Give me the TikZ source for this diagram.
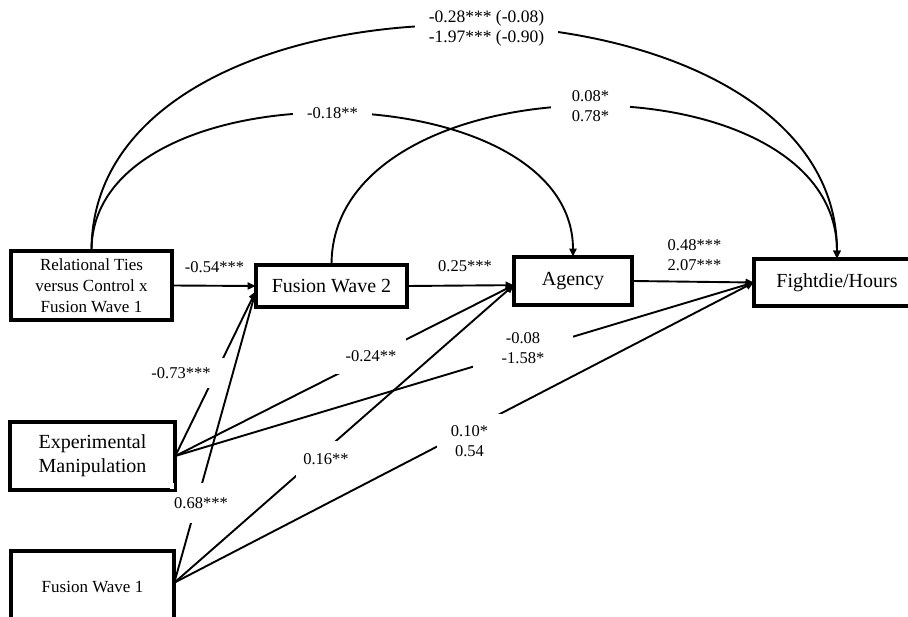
\documentclass[tikz,border=0pt]{standalone}
\usepackage{fontspec}
\setmainfont{Liberation Serif}
\usetikzlibrary{arrows.meta}
\begin{document}
\begin{tikzpicture}[x=1pt,y=-1pt,
  box/.style={draw, line width=2.6pt, inner sep=0pt, align=center, font=\fontsize{20}{24}\selectfont},
  smallbox/.style={box, font=\fontsize{17}{21}\selectfont},
  conn/.style={line width=1.9pt, -{Triangle[length=8pt,width=7pt]}},
  lab/.style={fill=white, inner sep=0pt, align=center, font=\fontsize{16.5}{20}\selectfont},
  toplab/.style={lab, font=\fontsize{17.5}{20}\selectfont}
]
\useasboundingbox (0,0) rectangle (908,617);
\clip (0,0) rectangle (908,617);

\path
  (91.5,285.5) coordinate (crt)
  (331.5,286) coordinate (cfw2)
  (573,281) coordinate (cag)
  (837,282.5) coordinate (cfd)
  (92.5,456) coordinate (cem)
  (92.5,587) coordinate (cfw1);

\node[smallbox, minimum width=159pt, minimum height=67pt] (rt) at (crt) {Relational Ties\\versus Control x\\Fusion Wave 1};
\node[box, minimum width=149pt, minimum height=40pt] (fw2) at (cfw2) {Fusion Wave 2};
\node[box, minimum width=116pt, minimum height=46pt] (ag) at (cag) {Agency};
\node[box, minimum width=164pt, minimum height=45pt] (fd) at (cfd) {Fightdie/Hours};
\node[box, minimum width=163pt, minimum height=66pt] (em) at (cem) {Experimental\\Manipulation};
\node[smallbox, minimum width=161pt, minimum height=70pt] (fw1) at (cfw1) {Fusion Wave 1};

% connectors
\draw[conn] (rt.east) -- (fw2.west);
\draw[conn] (fw2.east) -- (ag.184);
\draw[conn] (ag.east) -- (fd.west);
\draw[conn] (em.east) -- (fw2.184);
\draw[conn] (em.east) -- (ag.184);
\draw[conn] (em.east) -- (fd.west);
\draw[conn] (fw1.3) -- (fw2.184);
\draw[conn] (fw1.3) -- (ag.184);
\draw[conn] (fw1.3) -- (fd.west);
\draw[conn] (rt.north) .. controls +(0,-305) and +(0,-305) .. (fd.north);
\draw[conn] (rt.north) .. controls +(0,-187) and +(0,-187) .. (ag.north);
\draw[conn] (fw2.north) .. controls +(0,-207) and +(0,-207) .. (fd.north);

% labels
\node[toplab, minimum width=143pt, minimum height=40pt] (l1) at (486.5,28) {-0.28*** (-0.08)\\-1.97*** (-0.90)};
\node[lab, minimum width=79pt, minimum height=24pt] (l2) at (332.5,113) {-0.18**};
\node[lab, minimum width=79pt, minimum height=44pt] (l3) at (590.5,106) {0.08*\\0.78*};
\node[lab] (l4) at (214.5,267) {-0.54***};
\node[lab] (l5) at (465,266) {0.25***};
\node[lab] (l6) at (694.5,255) {0.48***\\2.07***};
\node[lab, minimum width=100pt, minimum height=44pt] (l7) at (523,348) {-0.08\\-1.58*};
\node[lab, minimum width=70pt, minimum height=37pt] (l8) at (371,356) {-0.24**};
\node[lab, minimum width=86pt, minimum height=30pt] (l9) at (181,373) {-0.73***};
\node[lab, minimum width=62pt, minimum height=40pt] (l10) at (201,503) {0.68***};
\node[lab, minimum width=60pt, minimum height=36pt] (l11) at (326,459) {0.16**};
\node[lab, minimum width=65pt, minimum height=54pt] (l12) at (469.5,441) {0.10*\\0.54};

% box borders on top of label backgrounds
\foreach \n in {rt,fw2,ag,fd,em,fw1}
  \draw[line width=2.6pt] (\n.south west) rectangle (\n.north east);
\end{tikzpicture}
\end{document}
